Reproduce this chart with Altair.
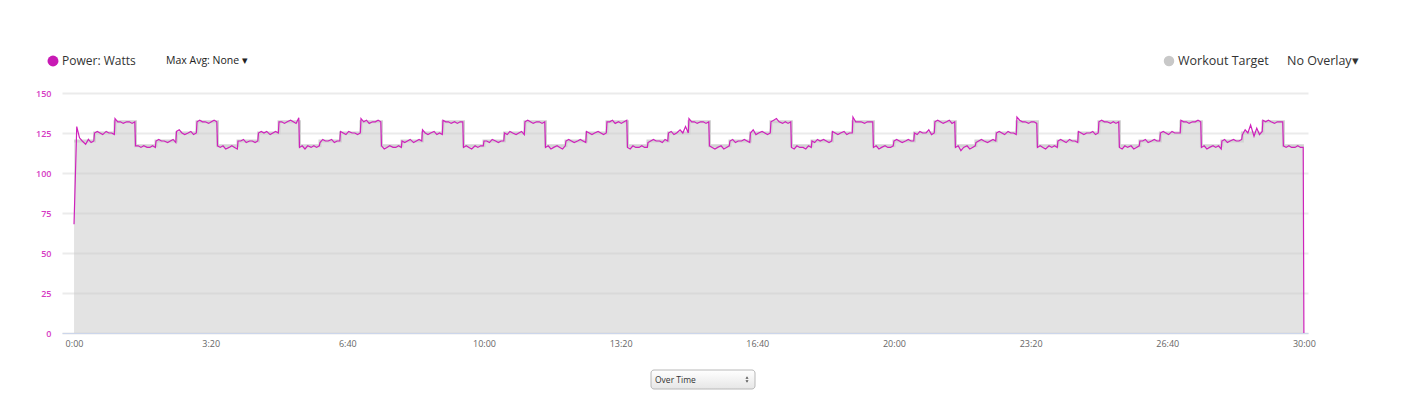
import altair as alt
import pandas as pd

# --- data -------------------------------------------------------------
# workout target level for each 30-second step (60 steps = 30 minutes)
target_levels = [
    120, 125, 132, 117, 120, 125, 132, 117, 120, 125, 132, 117,
    120, 125, 132, 117, 120, 125, 132, 117, 120, 125, 132, 117,
    120, 125, 132, 117, 120, 125, 132, 117, 120, 125, 132, 117,
    120, 125, 132, 117, 120, 125, 132, 117, 120, 125, 132, 117,
    120, 125, 132, 117, 120, 125, 132, 117, 120, 125, 132, 117,
]

# measured power readings (watts) inside each 30-second step
power_segments = [
    [68, 129, 122, 120, 118, 121, 119, 120],
    [125, 126, 125, 124, 126, 125, 125, 124],
    [134, 132, 132, 131, 132, 132, 131, 132],
    [117, 117, 116, 117, 116, 116, 117, 116],
    [120, 121, 120, 120, 119, 120, 121, 119],
    [126, 127, 125, 124, 125, 126, 124, 125],
    [132, 133, 132, 132, 131, 132, 133, 132],
    [117, 116, 117, 115, 116, 117, 116, 115],
    [120, 120, 121, 119, 120, 120, 119, 120],
    [125, 126, 125, 126, 124, 125, 126, 125],
    [132, 132, 131, 132, 133, 132, 131, 134.5],
    [116, 117, 115, 117, 116, 117, 116, 117],
    [119, 121, 120, 120, 121, 119, 120, 120],
    [126, 125, 124, 126, 125, 125, 124, 125],
    [134, 132, 133, 131, 132, 132, 133, 132],
    [117, 115, 116, 117, 116, 116, 117, 116],
    [120, 119, 120, 121, 119, 120, 121, 120],
    [127, 125, 124, 125, 126, 124, 125, 124],
    [133, 132, 132, 131, 132, 131, 132, 132],
    [116, 117, 116, 115, 117, 116, 117, 117],
    [120, 120, 119, 121, 120, 119, 120, 120],
    [125, 124, 126, 125, 124, 125, 126, 124],
    [132, 133, 132, 131, 132, 132, 131, 132],
    [116, 117, 115, 116, 117, 116, 115, 117],
    [120, 121, 120, 119, 120, 121, 120, 119],
    [126, 125, 124, 125, 126, 125, 124, 125],
    [132, 132, 133, 131, 132, 131, 132, 133],
    [116, 115, 117, 116, 116, 117, 116, 116],
    [119, 120, 121, 120, 120, 119, 121, 120],
    [125, 126, 124, 125, 127, 125, 129, 125],
    [134, 132, 132, 131, 132, 132, 131, 132],
    [117, 116, 115, 116, 117, 115, 116, 117],
    [120, 121, 119, 120, 120, 121, 120, 119],
    [125, 127, 124, 125, 126, 125, 124, 125],
    [132, 133, 134, 132, 131, 132, 131, 132],
    [116, 115, 117, 116, 116, 115, 117, 116],
    [120, 119, 121, 120, 121, 120, 119, 120],
    [126, 125, 124, 125, 126, 124, 125, 125],
    [135, 132, 132, 132, 131, 132, 132, 132],
    [116, 117, 115, 116, 117, 116, 116, 117],
    [120, 121, 120, 119, 120, 121, 120, 120],
    [125, 124, 126, 125, 125, 127, 124, 125],
    [132, 133, 132, 131, 132, 133, 131, 132],
    [116, 117, 114, 116, 117, 115, 116, 117],
    [119, 120, 121, 120, 119, 120, 121, 120],
    [125, 126, 125, 124, 126, 125, 125, 124],
    [135, 133, 132, 132, 131, 132, 132, 131],
    [116, 117, 116, 115, 117, 116, 117, 116],
    [120, 121, 120, 119, 121, 120, 120, 119],
    [126, 125, 124, 125, 125, 126, 124, 125],
    [132, 133, 132, 132, 131, 132, 131, 132],
    [116, 115, 117, 116, 117, 115, 116, 117],
    [120, 120, 121, 119, 120, 121, 120, 120],
    [125, 126, 125, 124, 126, 125, 125, 125],
    [133, 132, 132, 131, 132, 132, 133, 132],
    [116, 117, 115, 116, 117, 116, 117, 115],
    [120, 121, 119, 120, 121, 120, 120, 121],
    [124, 127, 125, 130, 123, 128, 124, 126],
    [133, 132, 133, 132, 131, 132, 132, 132],
    [117, 116, 117, 116, 116, 117, 116, 116],
]
final_power = 0          # power at 30:00
sample_offsets = [0, 4, 8, 12, 17, 21, 25, 29]   # seconds into each step
step_seconds = 30

x_ticks = [0, 200, 400, 600, 800, 1000, 1200, 1400, 1600, 1800]
y_ticks = [0, 25, 50, 75, 100, 125, 150]

# --- tables -----------------------------------------------------------
p_rows = []
for i, seg in enumerate(power_segments):
    for k, v in enumerate(seg):
        p_rows.append({"t": step_seconds * i + sample_offsets[k], "w": v})
p_rows.append({"t": step_seconds * len(power_segments), "w": final_power})
power_df = pd.DataFrame(p_rows)

t_rows = [{"t": step_seconds * i, "level": lv} for i, lv in enumerate(target_levels)]
t_rows.append({"t": step_seconds * len(target_levels), "level": target_levels[-1]})
target_df = pd.DataFrame(t_rows)

# --- chart ------------------------------------------------------------
FONT = "Open Sans"
MAGENTA = "#cf22bc"

xs = alt.Scale(domain=[-17.6, 1806], nice=False, zero=False)
ys = alt.Scale(domain=[0, 150], nice=False)

x_axis = alt.Axis(
    values=x_ticks, tickCount=len(x_ticks), title=None, grid=False, ticks=False,
    domainColor="#ccd6eb", domainWidth=1, labelOverlap=False,
    labelExpr="floor(datum.value/60) + ':' + (datum.value % 60 < 10 ? '0' : '') + (datum.value % 60)",
    labelColor="#666666", labelFont=FONT, labelFontSize=9, labelPadding=6,
)
y_axis = alt.Axis(
    values=y_ticks, tickCount=len(y_ticks), title=None, domain=False, ticks=False,
    gridColor="#ebebeb", gridWidth=2, labelOverlap=False,
    labelColor="#d63ac4", labelFont=FONT, labelFontSize=9, labelFontWeight=600,
    labelPadding=11,
)

area = alt.Chart(target_df).mark_area(
    interpolate="step-after", color="#c8c8c8", opacity=0.5
).encode(
    x=alt.X("t:Q", scale=xs, axis=x_axis),
    y=alt.Y("level:Q", scale=ys, axis=y_axis),
)

halo = alt.Chart(target_df).mark_line(
    interpolate="step-after", color="#d2d2d2", strokeWidth=3
).encode(
    x=alt.X("t:Q", scale=xs),
    y=alt.Y("level:Q", scale=ys),
)

power = alt.Chart(power_df).mark_line(
    color=MAGENTA, strokeWidth=1.2
).encode(
    x=alt.X("t:Q", scale=xs),
    y=alt.Y("w:Q", scale=ys),
)

one = pd.DataFrame({"a": [0]})


def txt(s, x, y, size, color="#333333", weight="normal"):
    return alt.Chart(one).mark_text(
        text=s, align="left", baseline="middle", font=FONT,
        fontSize=size, color=color, fontWeight=weight,
    ).encode(x=alt.value(x), y=alt.value(y))


def dot(x, y, color, size):
    return alt.Chart(one).mark_circle(color=color, size=size, opacity=1).encode(
        x=alt.value(x), y=alt.value(y)
    )


def tri(x, y, shape):
    return alt.Chart(one).mark_point(
        shape=shape, filled=True, color="#555555", size=9, opacity=1
    ).encode(x=alt.value(x), y=alt.value(y))


legend = [
    dot(-9, -32, "#c81ab4", 120),
    txt("Power: Watts", 0, -32, 12),
    txt("Max Avg: None \u25BE", 104, -32, 10.5, "#222222"),
    dot(1107, -32, "#c8c8c8", 110),
    txt("Workout Target", 1116, -32, 12.5),
    txt("No Overlay\u25BE", 1225, -32, 12.5),
]

dropdown_box = alt.Chart(one).mark_rect(
    cornerRadius=3, stroke="#b8b8b8", strokeWidth=1,
    fill=alt.Gradient(
        gradient="linear",
        stops=[alt.GradientStop(color="#ffffff", offset=0),
               alt.GradientStop(color="#e6e6e6", offset=1)],
        x1=0, x2=0, y1=0, y2=1,
    ),
).encode(x=alt.value(589), x2=alt.value(693), y=alt.value(277), y2=alt.value(296))

dropdown = [
    dropdown_box,
    txt("Over Time", 593, 286.5, 8.5, "#333333"),
    tri(685, 284.5, "triangle-up"),
    tri(685, 288.5, "triangle-down"),
]

chart = alt.layer(area, halo, power, *legend, *dropdown).properties(
    width=1246, height=240,
    padding={"left": 54, "top": 85, "right": 80, "bottom": 62},
    autosize=alt.AutoSizeParams(type="none"),
).configure_view(strokeWidth=0)

chart.save("out.html", embed_options={"renderer": "svg", "actions": False})
